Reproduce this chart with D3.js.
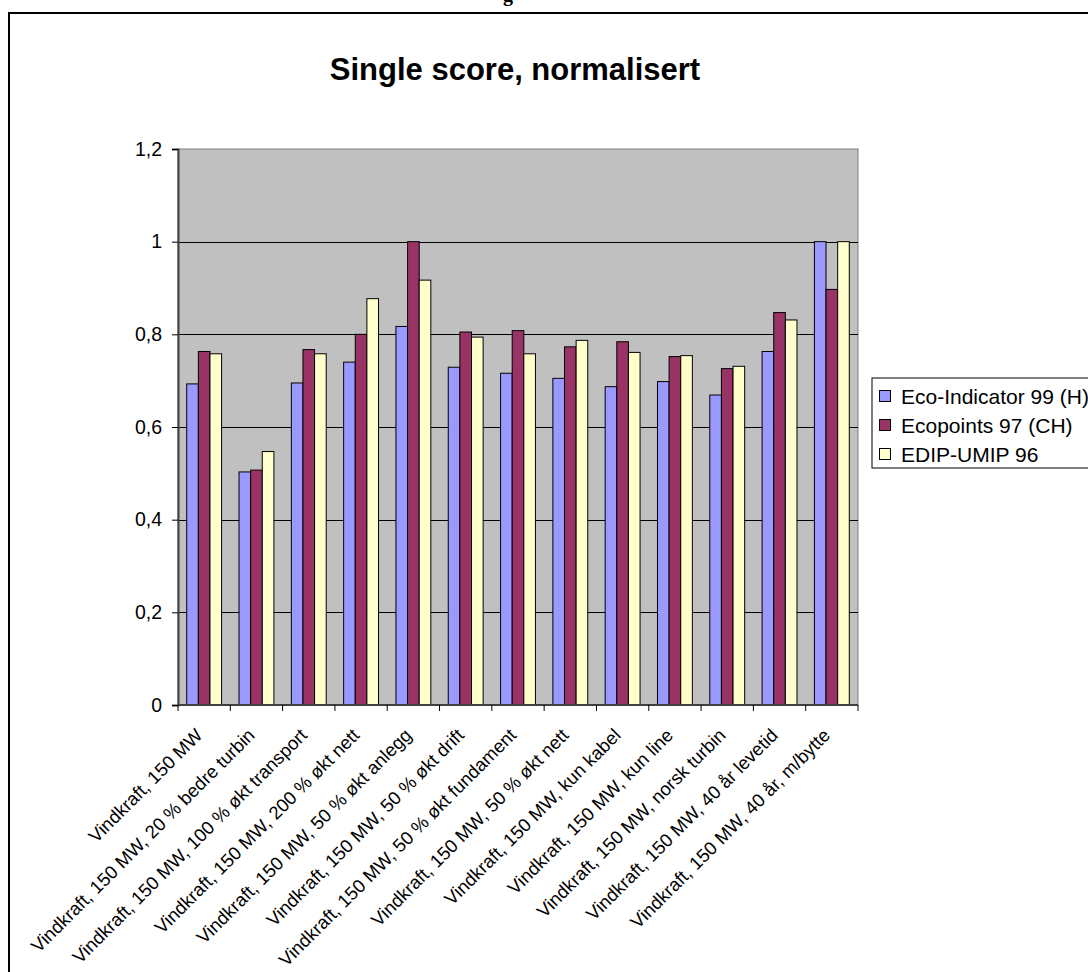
<!DOCTYPE html>
<html>
<head>
<meta charset="utf-8">
<script src="https://cdn.jsdelivr.net/npm/d3@7"></script>
<style>
  html, body { margin: 0; padding: 0; background: #fff; }
  svg { display: block; }
</style>
</head>
<body>
<svg id="chart" width="1088" height="972"></svg>
<script>
const categories = [
  "Vindkraft, 150 MW",
  "Vindkraft, 150 MW, 20 % bedre turbin",
  "Vindkraft, 150 MW, 100 % økt transport",
  "Vindkraft, 150 MW, 200 % økt nett",
  "Vindkraft, 150 MW, 50 % økt anlegg",
  "Vindkraft, 150 MW, 50 % økt drift",
  "Vindkraft, 150 MW, 50 % økt fundament",
  "Vindkraft, 150 MW, 50 % økt nett",
  "Vindkraft, 150 MW, kun kabel",
  "Vindkraft, 150 MW, kun line",
  "Vindkraft, 150 MW, norsk turbin",
  "Vindkraft, 150 MW, 40 år levetid",
  "Vindkraft, 150 MW, 40 år, m/bytte"
];
const seriesNames = ["Eco-Indicator 99 (H)", "Ecopoints 97 (CH)", "EDIP-UMIP 96"];
const ecoIndicator = [0.693, 0.503, 0.695, 0.740, 0.817, 0.729, 0.716, 0.705, 0.687, 0.698, 0.669, 0.763, 1.000];
const ecopoints    = [0.763, 0.507, 0.767, 0.800, 1.000, 0.805, 0.808, 0.773, 0.784, 0.752, 0.726, 0.847, 0.897];
const edipUmip     = [0.758, 0.547, 0.758, 0.877, 0.917, 0.794, 0.758, 0.787, 0.761, 0.754, 0.731, 0.831, 1.000];
const yTicks = [0, 0.2, 0.4, 0.6, 0.8, 1, 1.2];
const colors = ["#9999FF", "#993366", "#FFFFCC"];
const title = "Single score, normalisert";

const series = [ecoIndicator, ecopoints, edipUmip];
const svg = d3.select("#chart");
const plot = {left: 178, right: 858, top: 149, bottom: 705};
const FONT = "'Liberation Sans', Arial, sans-serif";

// fragment of text above the frame (cut off in the original too)
svg.append("text").attr("x", 503).attr("y", 1).attr("font-family", "'Liberation Serif', serif")
  .attr("font-weight", "bold").attr("font-size", 20).text("g");

// outer frame
svg.append("rect").attr("x", 9).attr("y", 13).attr("width", 1100).attr("height", 1000)
  .attr("fill", "#fff").attr("stroke", "#000").attr("stroke-width", 2);

// title
svg.append("text").attr("x", 515).attr("y", 80).attr("text-anchor", "middle")
  .attr("font-family", FONT).attr("font-weight", "bold").attr("font-size", 31)
  .text(title);

const x0 = d3.scaleBand().domain(categories).range([plot.left, plot.right]).paddingInner(0).paddingOuter(0);
const y = d3.scaleLinear().domain([0, 1.2]).range([plot.bottom, plot.top]);

// plot background
svg.append("rect").attr("x", plot.left).attr("y", plot.top)
  .attr("width", plot.right - plot.left).attr("height", plot.bottom - plot.top)
  .attr("fill", "#C0C0C0").attr("stroke", "#808080").attr("stroke-width", 1);

// gridlines
svg.append("g").selectAll("line").data(yTicks.filter(d => d > 0 && d < 1.2)).join("line")
  .attr("x1", plot.left).attr("x2", plot.right)
  .attr("y1", d => Math.round(y(d)) + 0.5).attr("y2", d => Math.round(y(d)) + 0.5)
  .attr("stroke", "#000").attr("stroke-width", 1);

// bars (gap width 150% of a bar)
const bw = x0.bandwidth() / 4.5;
const groups = svg.append("g").selectAll("g").data(categories).join("g");
groups.selectAll("rect").data((c, i) => series.map((s, k) => ({k, v: s[i], c}))).join("rect")
  .attr("x", d => x0(d.c) + bw * 0.75 + d.k * bw)
  .attr("y", d => y(d.v))
  .attr("width", bw)
  .attr("height", d => y(0) - y(d.v))
  .attr("fill", d => colors[d.k])
  .attr("stroke", "#000").attr("stroke-width", 1);

// y axis
const yAxis = d3.axisLeft(y).tickValues(yTicks).tickSize(6).tickPadding(10)
  .tickFormat(d => d3.format("~g")(d).replace(".", ","));
const gy = svg.append("g").attr("transform", `translate(${plot.left},0)`).call(yAxis);
gy.select(".domain").attr("stroke", "#404040").attr("stroke-width", 2);
gy.selectAll(".tick line").attr("stroke", "#000");
gy.selectAll("text").attr("font-family", FONT).attr("font-size", 19.5).attr("fill", "#000");

// x axis line and ticks at category boundaries
svg.append("line").attr("x1", plot.left).attr("x2", plot.right)
  .attr("y1", plot.bottom).attr("y2", plot.bottom).attr("stroke", "#404040").attr("stroke-width", 2);
const boundaries = categories.map(c => x0(c)).concat([plot.right]);
svg.append("g").selectAll("line").data(boundaries).join("line")
  .attr("x1", d => d).attr("x2", d => d)
  .attr("y1", plot.bottom).attr("y2", plot.bottom + 6)
  .attr("stroke", "#000");

// x labels
svg.append("g").selectAll("text").data(categories).join("text")
  .attr("transform", c => `translate(${x0(c) + x0.bandwidth() / 2 - 10},${plot.bottom + 22}) rotate(-45)`)
  .attr("text-anchor", "end").attr("dy", "0.72em")
  .attr("font-family", FONT).attr("font-size", 18.5).attr("fill", "#000")
  .text(c => c);

// legend
const lg = svg.append("g").attr("transform", "translate(872,378)");
lg.append("rect").attr("x", 0).attr("y", 0).attr("width", 240).attr("height", 90)
  .attr("fill", "#fff").attr("stroke", "#000").attr("stroke-width", 1);
seriesNames.forEach((n, i) => {
  const cy = 18 + i * 29;
  lg.append("rect").attr("x", 7.5).attr("y", cy - 5.5).attr("width", 11).attr("height", 11)
    .attr("fill", colors[i]).attr("stroke", "#000");
  lg.append("text").attr("x", 29).attr("y", cy).attr("dy", "0.36em")
    .attr("font-family", FONT).attr("font-size", 21).attr("fill", "#000").text(n);
});
</script>
</body>
</html>
